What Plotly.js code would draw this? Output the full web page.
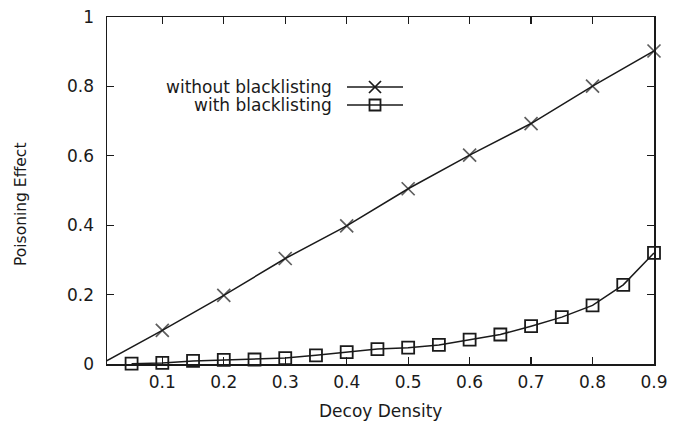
<!DOCTYPE html>
<html>
<head>
<meta charset="utf-8">
<script src="https://cdn.plot.ly/plotly-3.0.1.min.js"></script>
<style>
html,body{margin:0;padding:0;background:#fff;}
#chart{width:673px;height:421px;}
</style>
</head>
<body>
<div id="chart"></div>
<script>
// ---- data ----
const withoutX = [0.0, 0.1, 0.2, 0.3, 0.4, 0.5, 0.6, 0.7, 0.8, 0.9];
const withoutY = [0.0, 0.097, 0.198, 0.304, 0.398, 0.505, 0.602, 0.693, 0.801, 0.902];

const withX = [0.05, 0.1, 0.15, 0.2, 0.25, 0.3, 0.35, 0.4, 0.45, 0.5, 0.55, 0.6, 0.65, 0.7, 0.75, 0.8, 0.85, 0.9];
const withY = [0.001, 0.003, 0.009, 0.012, 0.013, 0.017, 0.025, 0.034, 0.043, 0.047, 0.055, 0.070, 0.085, 0.109, 0.135, 0.169, 0.228, 0.320];

const seriesNames = ["without blacklisting", "with blacklisting"];
const xTicks = [0.1, 0.2, 0.3, 0.4, 0.5, 0.6, 0.7, 0.8, 0.9];
const xTickText = ["0.1", "0.2", "0.3", "0.4", "0.5", "0.6", "0.7", "0.8", "0.9"];
const yTicks = [0, 0.2, 0.4, 0.6, 0.8, 1];
const yTickText = ["0", "0.2", "0.4", "0.6", "0.8", "1"];
const xTitle = "Decoy Density";
const yTitle = "Poisoning Effect";

// ---- layout constants ----
const W = 673, H = 421;
const M = {l: 107, r: 19, t: 17, b: 57};
const XR = [0.01, 0.9], YR = [0, 1];
const FONT = "DejaVu Sans, Arial, sans-serif";
const INK = "#1a1a1a";
const pw = W - M.l - M.r, ph = H - M.t - M.b;
const px2paperX = p => (p - M.l) / pw;
const py2paperY = p => (H - M.b - p) / ph;

const traces = [
  {
    x: withoutX, y: withoutY, name: seriesNames[0], type: "scatter", mode: "lines+markers",
    line: {color: INK, width: 1.5},
    marker: {symbol: "x-thin-open", size: withoutX.map(v => v < XR[0] ? 0 : 13),
             color: INK, line: {color: INK, width: 1.7}},
    showlegend: false, cliponaxis: false
  },
  {
    x: withX, y: withY, name: seriesNames[1], type: "scatter", mode: "lines+markers",
    line: {color: INK, width: 1.5},
    marker: {symbol: "square-open", size: 12, color: INK, line: {color: INK, width: 1.8}},
    showlegend: false, cliponaxis: false
  }
];

// ---- manual gnuplot-style key (text left, sample right) ----
const keyRows = [87, 105];
const keyTextRight = 334, keyL0 = 347, keyL1 = 403, keyMid = 375, half = 6;
const shapes = [];
const annotations = [];
keyRows.forEach((py, i) => {
  annotations.push({
    xref: "paper", yref: "paper", x: px2paperX(keyTextRight), y: py2paperY(py),
    xanchor: "right", yanchor: "middle", showarrow: false, text: seriesNames[i],
    font: {family: FONT, size: 17, color: INK}
  });
  shapes.push({type: "line", xref: "paper", yref: "paper",
    x0: px2paperX(keyL0), x1: px2paperX(keyL1), y0: py2paperY(py), y1: py2paperY(py),
    line: {color: INK, width: 1.5}});
  if (i === 0) {
    shapes.push({type: "line", xref: "paper", yref: "paper",
      x0: px2paperX(keyMid - half), x1: px2paperX(keyMid + half),
      y0: py2paperY(py - half), y1: py2paperY(py + half), line: {color: INK, width: 1.7}});
    shapes.push({type: "line", xref: "paper", yref: "paper",
      x0: px2paperX(keyMid - half), x1: px2paperX(keyMid + half),
      y0: py2paperY(py + half), y1: py2paperY(py - half), line: {color: INK, width: 1.7}});
  } else {
    shapes.push({type: "rect", xref: "paper", yref: "paper",
      x0: px2paperX(keyMid - 5.5), x1: px2paperX(keyMid + 5.5),
      y0: py2paperY(py + 5.5), y1: py2paperY(py - 5.5),
      line: {color: INK, width: 1.8}, fillcolor: "rgba(0,0,0,0)"});
  }
});

// axis titles as annotations for exact placement
annotations.push({
  xref: "paper", yref: "paper", x: 0.5, y: py2paperY(411),
  xanchor: "center", yanchor: "middle", showarrow: false, text: xTitle,
  font: {family: FONT, size: 17, color: INK}
});
annotations.push({
  xref: "paper", yref: "paper", x: px2paperX(21), y: py2paperY(205),
  xanchor: "center", yanchor: "middle", showarrow: false, text: yTitle, textangle: -90,
  font: {family: FONT, size: 15.5, color: INK}
});

const axisCommon = {
  showgrid: false, zeroline: false, showline: true, linecolor: INK, linewidth: 1.5,
  mirror: "ticks", ticks: "inside", ticklen: 7, tickwidth: 1.2, tickcolor: INK,
  tickfont: {family: FONT, size: 17, color: INK}, fixedrange: true
};

const layout = {
  width: W, height: H,
  margin: M,
  paper_bgcolor: "#fff", plot_bgcolor: "#fff",
  showlegend: false,
  xaxis: Object.assign({}, axisCommon, {
    range: XR, tickmode: "array", tickvals: xTicks, ticktext: xTickText, ticklabelstandoff: 2
  }),
  yaxis: Object.assign({}, axisCommon, {
    range: YR, tickmode: "array", tickvals: yTicks, ticktext: yTickText, ticklabelstandoff: 8
  }),
  shapes: shapes,
  annotations: annotations
};

Plotly.newPlot("chart", traces, layout, {displayModeBar: false, staticPlot: true});
</script>
</body>
</html>
